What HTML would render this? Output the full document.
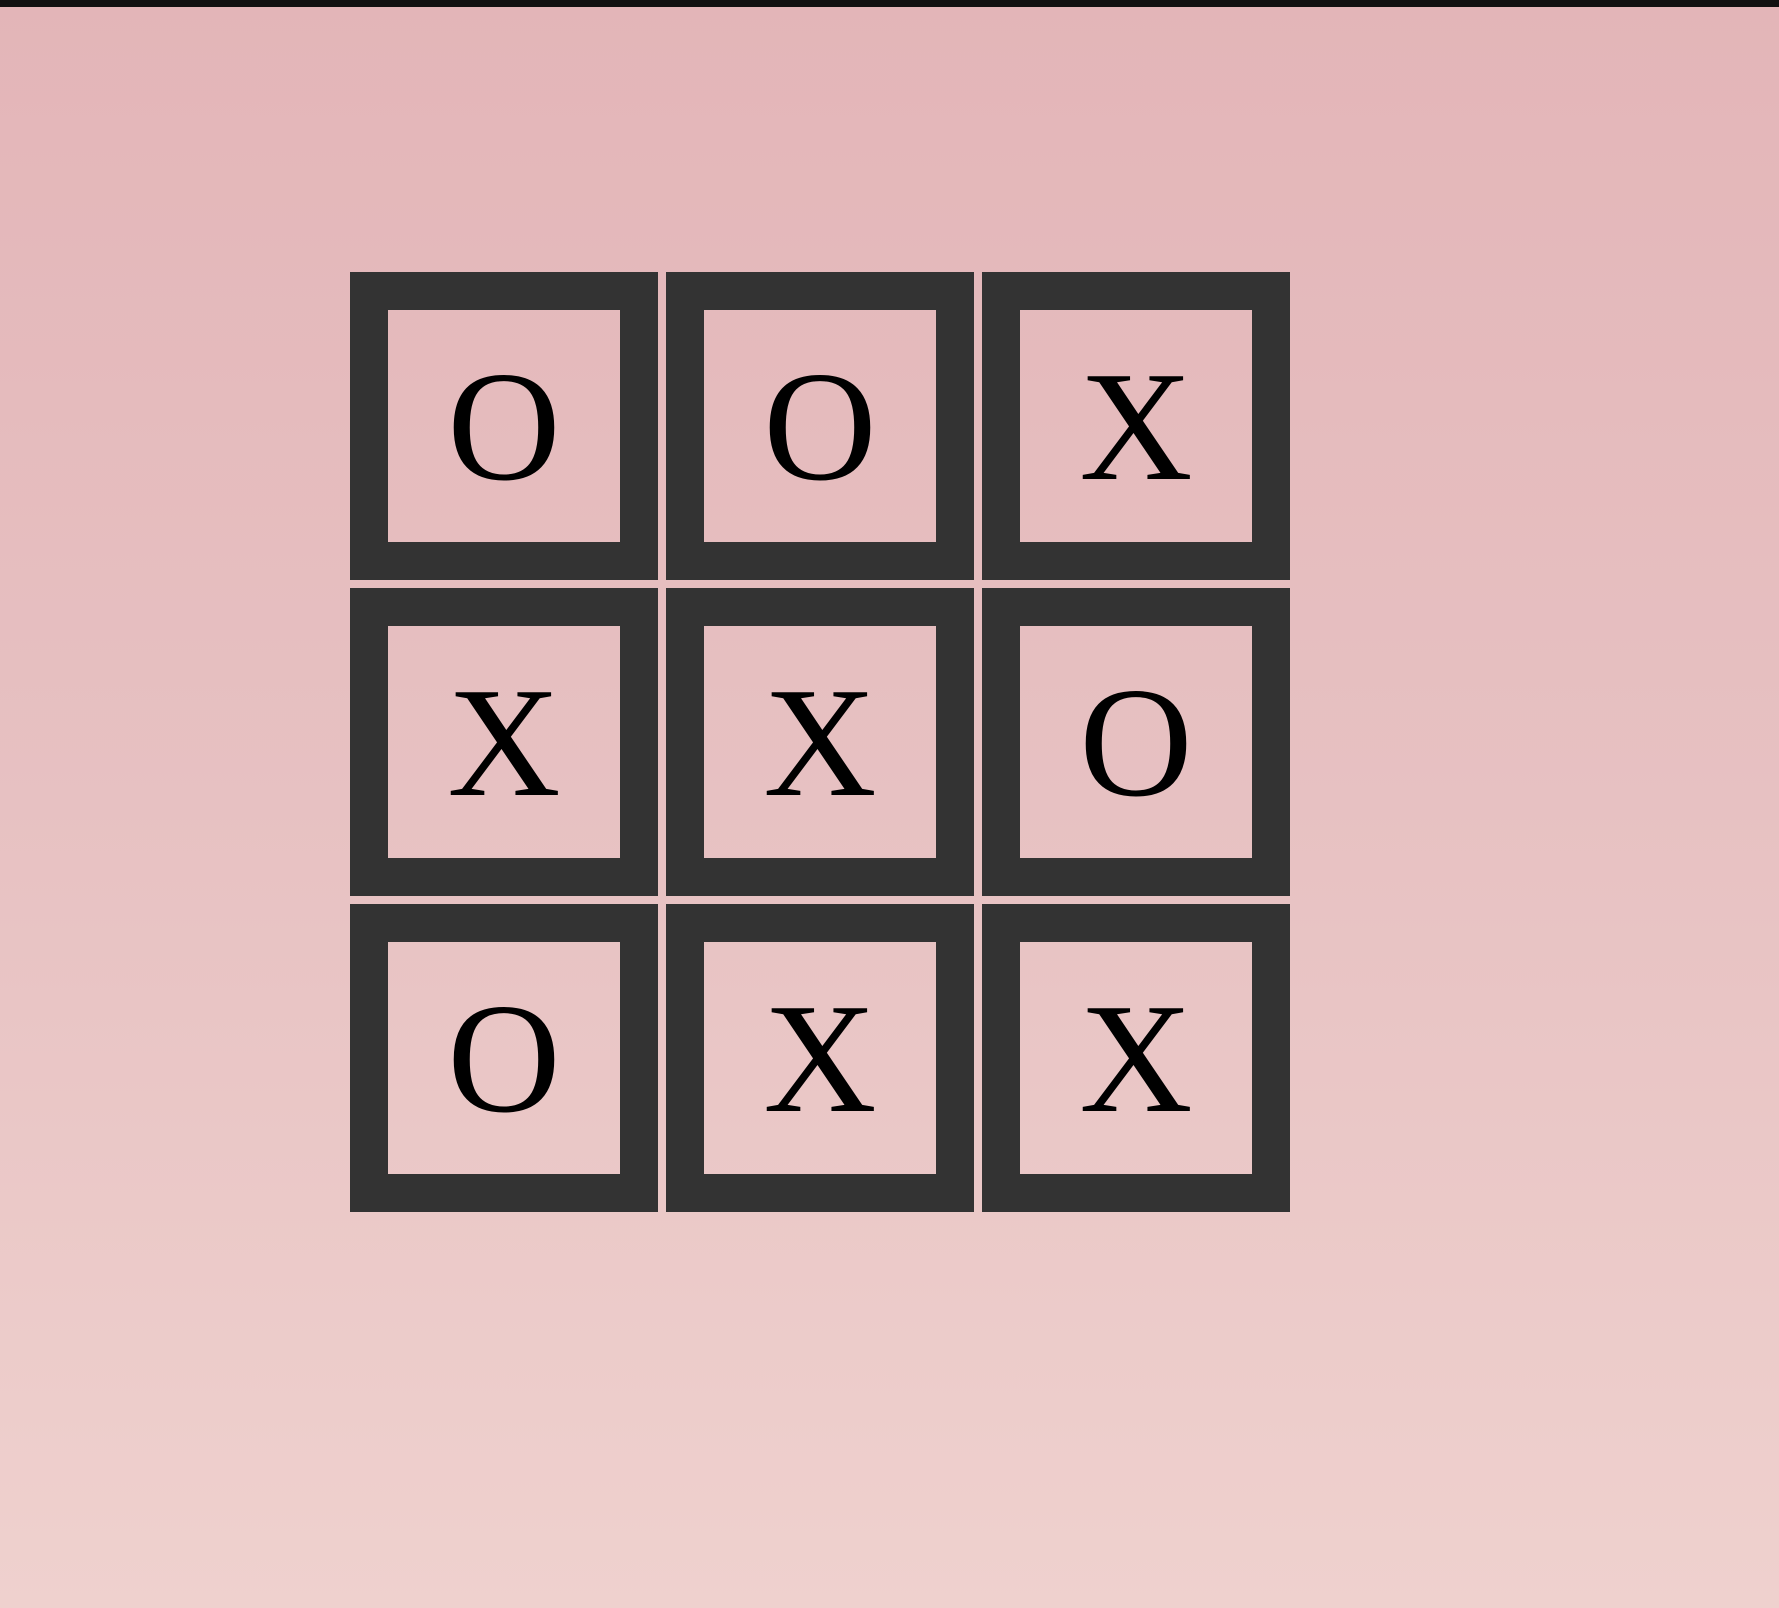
<!DOCTYPE html>
<html>
<head>
<meta charset="utf-8">
<style>
html,body{margin:0;padding:0;}
body{width:1779px;height:1608px;overflow:hidden;position:relative;
background:linear-gradient(to bottom,#e3b5b8 0%,#e7c1c2 50%,#efd1ce 100%);
font-family:"Liberation Serif","Times New Roman",Times,serif;}
.topbar{position:absolute;left:0;top:0;width:1779px;height:7px;background:#111;}
.board{position:absolute;left:350px;top:272px;width:941px;height:941px;}
.cell{position:absolute;width:308px;height:308px;box-sizing:border-box;border:38px solid #333;
display:flex;align-items:center;justify-content:center;font-size:157px;color:#000;line-height:1;
font-family:"Liberation Serif","Times New Roman",Times,serif;}
</style>
</head>
<body>
<div class="topbar"></div>
<div class="board">
<div class="cell" style="left:0;top:0">O</div>
<div class="cell" style="left:316px;top:0">O</div>
<div class="cell" style="left:632px;top:0">X</div>
<div class="cell" style="left:0;top:316px">X</div>
<div class="cell" style="left:316px;top:316px">X</div>
<div class="cell" style="left:632px;top:316px">O</div>
<div class="cell" style="left:0;top:632px">O</div>
<div class="cell" style="left:316px;top:632px">X</div>
<div class="cell" style="left:632px;top:632px">X</div>
</div>
</body>
</html>
